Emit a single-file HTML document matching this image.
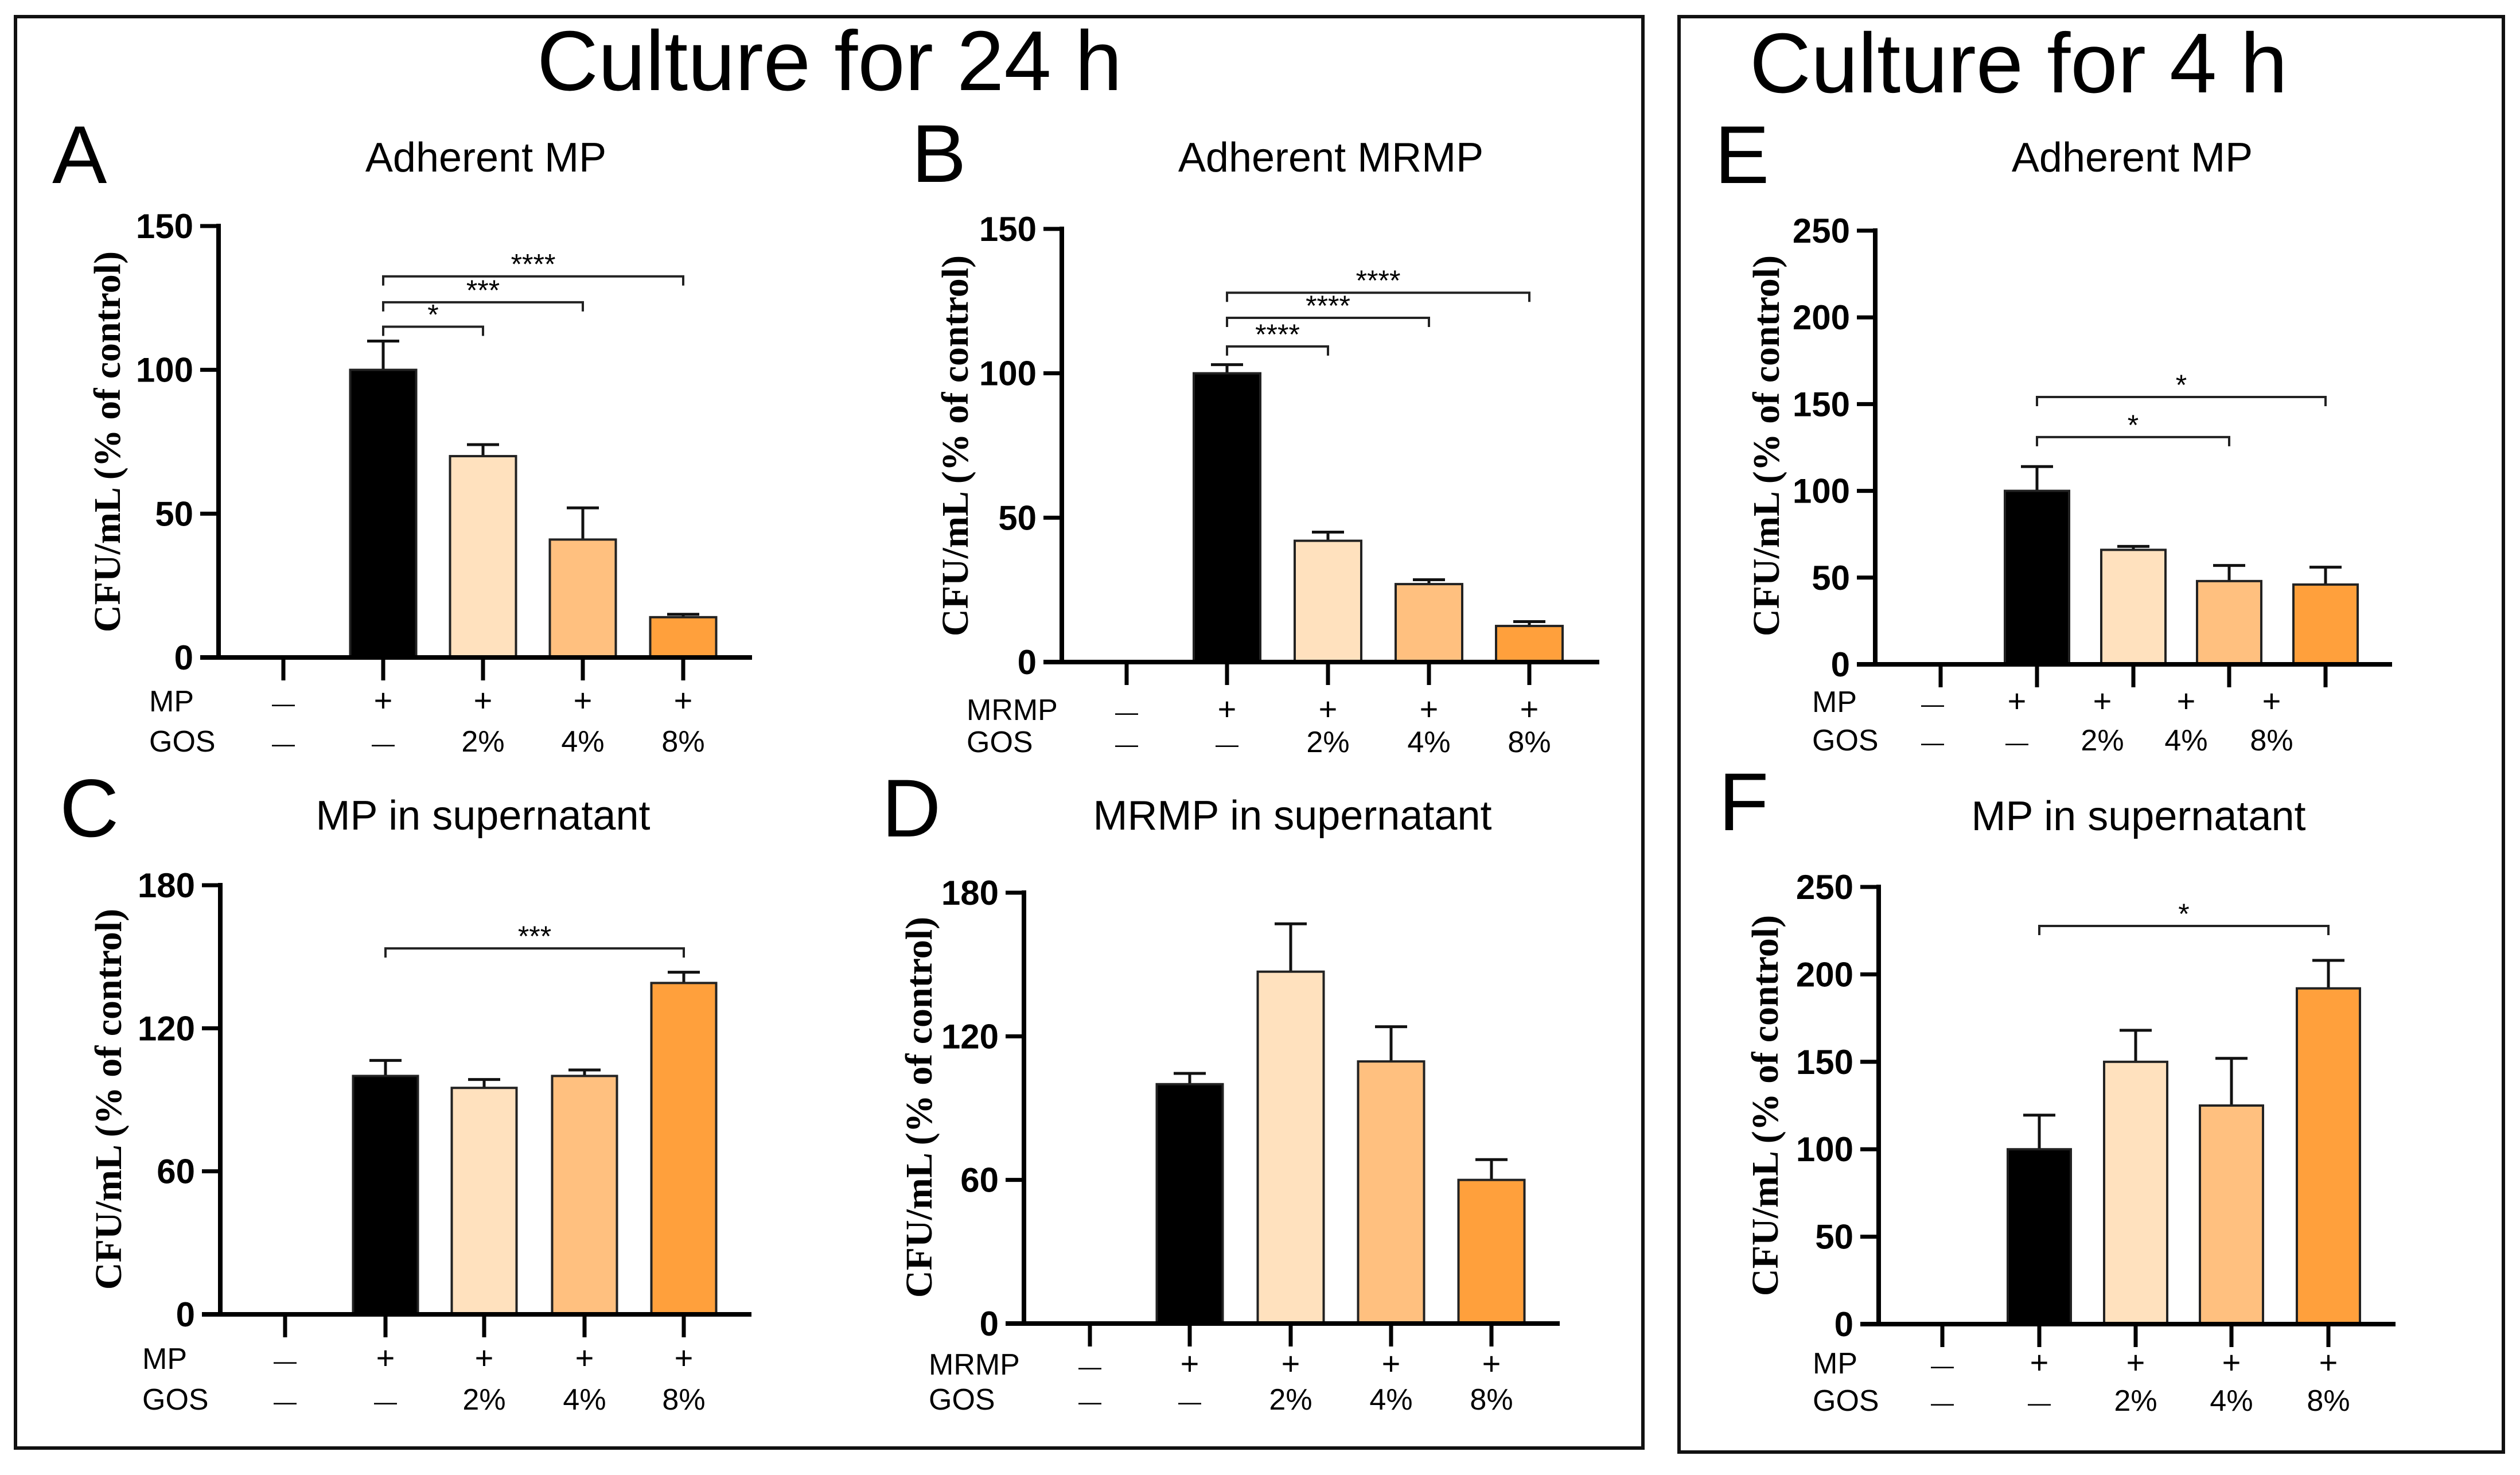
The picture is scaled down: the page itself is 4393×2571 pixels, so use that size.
<!DOCTYPE html>
<html><head><meta charset="utf-8"><style>
html,body{margin:0;padding:0;background:#fff;}
svg{display:block;}
text{font-family:"Liberation Sans",Arial,sans-serif;}
</style></head><body>
<svg id="fig" xmlns="http://www.w3.org/2000/svg" width="4393" height="2571" viewBox="0 0 4393 2571">
<rect x="0" y="0" width="4393" height="2571" fill="#fff"/>
<rect x="27" y="29" width="2837" height="2495" fill="none" stroke="#111" stroke-width="6"/>
<rect x="2927" y="29" width="1437" height="2502" fill="none" stroke="#111" stroke-width="6"/>
<text x="936" y="157" font-size="148">Culture for 24 h</text>
<text x="3050" y="161" font-size="148">Culture for 4 h</text>
</svg>
<script>
const colors = ["#000000","#FFE1BE","#FFC07F","#FFA03C"];
// Panel A
const aValues = [100, 70, 41, 14];
const aErrors = [110, 74, 52, 15];
const aTicks = [0, 50, 100, 150];
// Panel B
const bValues = [100, 42, 27, 12.5];
const bErrors = [103, 45, 28.5, 14];
const bTicks = [0, 50, 100, 150];
// Panel C
const cValues = [100, 95, 100, 139];
const cErrors = [106.5, 98.5, 102.5, 143.5];
const cTicks = [0, 60, 120, 180];
// Panel D
const dValues = [100, 147, 109.5, 60];
const dErrors = [104.5, 167, 124, 68.5];
const dTicks = [0, 60, 120, 180];
// Panel E
const eValues = [100, 66, 48, 46];
const eErrors = [114, 68, 57, 56];
const eTicks = [0, 50, 100, 150, 200, 250];
// Panel F
const fValues = [100, 150, 125, 192];
const fErrors = [119.5, 168, 152, 208];
const fTicks = [0, 50, 100, 150, 200, 250];
const gosLabels = ["—","—","2%","4%","8%"];
const orgLabels = ["—","+","+","+","+"];

const NS = "http://www.w3.org/2000/svg";
const svg = document.getElementById("fig");
function mk(tag, attrs, parent){
  const e = document.createElementNS(NS, tag);
  for (const k in attrs) e.setAttribute(k, attrs[k]);
  (parent||svg).appendChild(e);
  return e;
}
function txt(s, attrs, parent){ const e = mk("text", attrs, parent); e.textContent = s; return e; }

const panels = [
 {id:"a", letter:"A", lx:91, ly:319, title:"Adherent MP", tx:847, ty:299, ax:381, y0:1146, yTop:394, max:150, xs:[494,668,842,1016,1191], xEnd:1311, bw:115,
  vals:aValues, errs:aErrors, ticks:aTicks, org:"MP", rowX:260, r1:1240, r2:1310, labelX:null, ytX:187, ytY:770,
  sig:[[1,2,115,"*"],[1,3,123.5,"***"],[1,4,132.5,"****"]]},
 {id:"b", letter:"B", lx:1589, ly:317, title:"Adherent MRMP", tx:2320, ty:299, ax:1851, y0:1154, yTop:399, max:150, xs:[1964,2139,2315,2491,2666], xEnd:2788, bw:116,
  vals:bValues, errs:bErrors, ticks:bTicks, org:"MRMP", rowX:1685, r1:1255, r2:1311, ytX:1665, ytY:777,
  sig:[[1,2,109.3,"****"],[1,3,119.2,"****"],[1,4,127.9,"****"]]},
 {id:"c", letter:"C", lx:104, ly:1458, title:"MP in supernatant", tx:842, ty:1446, ax:384, y0:2291, yTop:1543, max:180, xs:[497,672,844,1019,1192], xEnd:1310, bw:113,
  vals:cValues, errs:cErrors, ticks:cTicks, org:"MP", rowX:248, r1:2386, r2:2457, ytX:189, ytY:1916,
  sig:[[1,4,153.5,"***"]]},
 {id:"d", letter:"D", lx:1537, ly:1458, title:"MRMP in supernatant", tx:2253, ty:1446, ax:1785, y0:2307, yTop:1556, max:180, xs:[1900,2074,2250,2425,2600], xEnd:2719, bw:115,
  vals:dValues, errs:dErrors, ticks:dTicks, org:"MRMP", rowX:1619, r1:2396, r2:2457, ytX:1602, ytY:1930,
  sig:[]},
 {id:"e", letter:"E", lx:2989, ly:319, title:"Adherent MP", tx:3717, ty:299, ax:3269, y0:1158, yTop:402, max:250, xs:[3383,3551,3719,3886,4054], xEnd:4170, bw:112,
  vals:eValues, errs:eErrors, ticks:eTicks, org:"MP", rowX:3159, r1:1241, r2:1308, ytX:3079, ytY:777,
  labelXs:[3369,3516,3665,3811,3960],
  sig:[[1,3,131,"*"],[1,4,154.1,"*"]]},
 {id:"f", letter:"F", lx:2996, ly:1447, title:"MP in supernatant", tx:3728, ty:1447, ax:3275, y0:2308, yTop:1546, max:250, xs:[3386,3555,3723,3890,4059], xEnd:4176, bw:110,
  vals:fValues, errs:fErrors, ticks:fTicks, org:"MP", rowX:3160, r1:2394, r2:2459, ytX:3077, ytY:1927,
  sig:[[1,4,227.7,"*"]]}
];

panels.forEach(p => {
  const g = mk("g", {});
  
  
  const y = v => p.y0 - (v / p.max) * (p.y0 - p.yTop);
  const L = txt(p.letter, {x:p.lx, y:p.ly, "font-size":143}, g);
  
  
  const T = txt(p.title, {x:p.tx, y:p.ty, "font-size":72, "text-anchor":"middle"}, g);
  
  
  const yt = txt("CFU/mL (% of control)", {x:0, y:0, "font-size":66, "font-weight":"bold", "text-anchor":"middle",
    style:"font-family:'Liberation Serif',serif", transform:`translate(${p.ytX+22},${p.ytY}) rotate(-90)`}, g);
  
  
  p.vals.forEach((v, i) => {
    const cx = p.xs[i+1];
    const top = y(v);
    const eb = mk("path", {d:`M${cx},${top} V${y(p.errs[i])} M${cx-28},${y(p.errs[i])} H${cx+28}`, stroke:"#111", "stroke-width":5, fill:"none"}, g);
    
    
    const r = mk("rect", {x:cx-p.bw/2, y:top, width:p.bw, height:p.y0-top, fill:colors[i], stroke:"#222", "stroke-width":4}, g);
    
    
  });
  const ya = mk("line", {x1:p.ax, y1:p.yTop-4, x2:p.ax, y2:p.y0+4, stroke:"#000", "stroke-width":8}, g);
  
  
  const xa = mk("line", {x1:p.ax-32, y1:p.y0, x2:p.xEnd, y2:p.y0, stroke:"#000", "stroke-width":8}, g);
  
  
  p.ticks.forEach(t => {
    const ty = y(t);
    const tl = mk("line", {x1:p.ax-32, y1:ty, x2:p.ax, y2:ty, stroke:"#000", "stroke-width":7}, g);
    
    
    const lb = txt(String(t), {x:p.ax-44, y:ty+21, "font-size":60, "font-weight":"bold", "text-anchor":"end"}, g);
    
    
  });
  p.xs.forEach((xx, i) => {
    const tk = mk("line", {x1:xx, y1:p.y0, x2:xx, y2:p.y0+40, stroke:"#000", "stroke-width":7}, g);
    
    
    const lx = p.labelXs ? p.labelXs[i] : xx;
    const o = txt(orgLabels[i], {x:lx, y:p.r1, "font-size": i==0 ? 40 : 56, "text-anchor":"middle"}, g);
    
    
    const gs = txt(gosLabels[i], {x:lx, y:p.r2, "font-size": gosLabels[i]=="—" ? 40 : 52, "text-anchor":"middle"}, g);
    
    
  });
  const rl1 = txt(p.org, {x:p.rowX, y:p.r1, "font-size":52}, g);
  
  
  const rl2 = txt("GOS", {x:p.rowX, y:p.r2, "font-size":52}, g);
  
  
  p.sig.forEach(s => {
    const x1 = p.xs[s[0]], x2 = p.xs[s[1]], by = y(s[2]);
    const br = mk("path", {d:`M${x1},${by+16} V${by} H${x2} V${by+16}`, stroke:"#222", "stroke-width":4, fill:"none"}, g);
    
    
    const st = txt(s[3], {x:(x1+x2)/2, y:by-4, "font-size":50, "text-anchor":"middle"}, g);
    
    
  });
});
</script>
</body></html>
